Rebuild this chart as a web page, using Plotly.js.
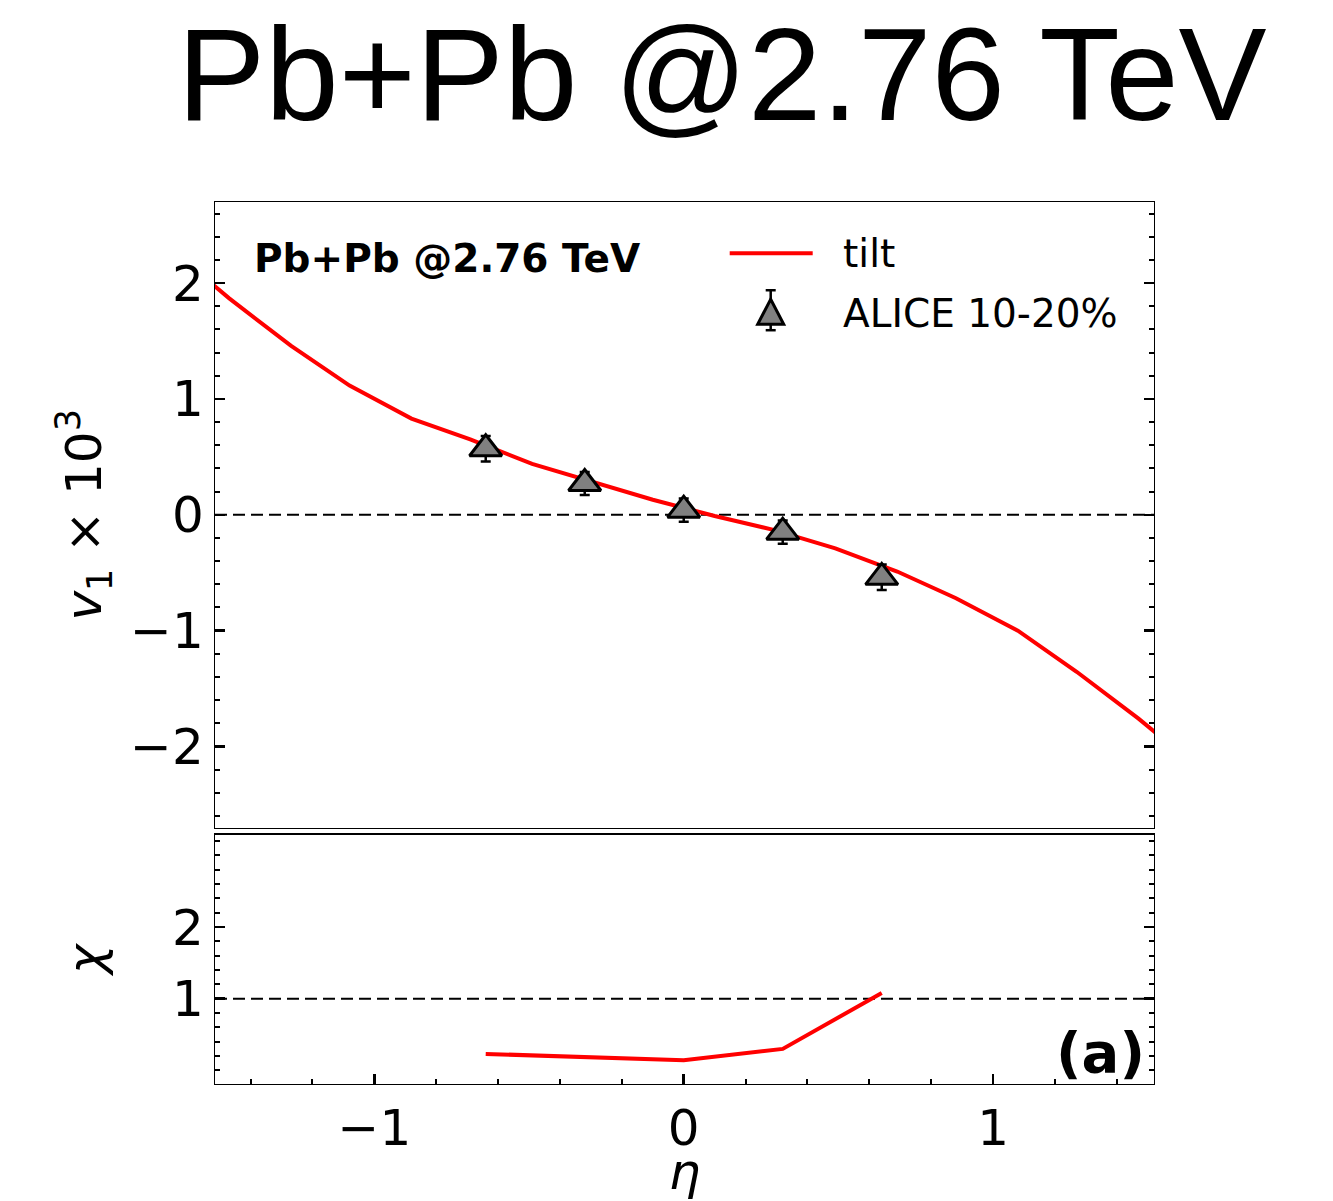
<!DOCTYPE html>
<html>
<head>
<meta charset="utf-8">
<script src="https://cdn.plot.ly/plotly-3.0.1.min.js"></script>
<style>html,body{margin:0;padding:0;background:#fff;}#chart{width:1333px;height:1201px;}</style>
</head>
<body>
<div id="chart"></div>
<script>
// ---- data ----
const etaModel = [-1.67, -1.47, -1.27, -1.08, -0.88, -0.69, -0.49, -0.29, -0.10, 0.10, 0.29, 0.49, 0.69, 0.88, 1.08, 1.27, 1.47, 1.67];
const v1Model  = [2.32, 1.87, 1.46, 1.115, 0.83, 0.65, 0.44, 0.28, 0.13, -0.01, -0.13, -0.29, -0.49, -0.72, -1.0, -1.355, -1.76, -2.2];
const etaData  = [-0.64, -0.32, 0.0, 0.32, 0.64];
const v1Data   = [0.57, 0.27, 0.04, -0.15, -0.54];
const v1Err    = [0.11, 0.10, 0.10, 0.10, 0.11];
const chiData  = [0.23, 0.18, 0.14, 0.30, 1.08];
const modelName = 'tilt';
const dataName  = 'ALICE 10-20%';

// ---- layout helpers (pixel -> paper) ----
const L = 215.3, R = 1154.3, T = 201.7, B = 1084.3;
const px = v => (v - L) / (R - L);
const py = v => (B - v) / (B - T);
const F = 'DejaVu Sans';

const traces = [
  {x: etaModel, y: v1Model, xaxis: 'x', yaxis: 'y', mode: 'lines', name: modelName,
   line: {color: '#ff0000', width: 4}, showlegend: false},
  {x: etaData, y: v1Data, xaxis: 'x', yaxis: 'y', mode: 'markers', name: dataName,
   marker: {symbol: 'triangle-up', size: 28, color: '#808080', line: {color: '#000', width: 3}},
   error_y: {type: 'data', array: v1Err, visible: true, color: '#000', thickness: 2.5, width: 5},
   showlegend: false},
  {x: etaData, y: chiData, xaxis: 'x2', yaxis: 'y2', mode: 'lines', name: 'chi',
   line: {color: '#ff0000', width: 4}, showlegend: false}
];

const tickFont = {family: F, size: 50, color: '#000'};
const axCommon = {showgrid: false, zeroline: false, showline: true, linecolor: '#000', linewidth: 1.2,
  ticks: 'inside', ticklen: 10, tickwidth: 2.5, tickcolor: '#000', tickfont: tickFont};

const layout = {
  width: 1333, height: 1201,
  paper_bgcolor: '#fff', plot_bgcolor: '#fff',
  margin: {l: L, r: 1333 - R, t: T, b: 1201 - B, pad: 0},
  showlegend: false,
  title: {text: 'Pb+Pb @2.76 TeV', font: {family: 'Liberation Sans', size: 132, color: '#000'},
          x: 722 / 1333, xanchor: 'center', xref: 'container', y: 1 - 74 / 1201, yanchor: 'middle', yref: 'container'},
  xaxis: Object.assign({}, axCommon, {domain: [0, 1], anchor: 'y', range: [-1.515, 1.52], matches: 'x2',
          showticklabels: false, ticks: '', mirror: true}),
  yaxis: Object.assign({}, axCommon, {domain: [(B - 827.7) / (B - T), 1], anchor: 'x', range: [-2.7, 2.7],
          tickmode: 'linear', tick0: 0, dtick: 1, mirror: 'ticks',
          minor: {ticks: 'inside', ticklen: 5, tickwidth: 2, tickcolor: '#000', tickmode: 'linear', tick0: 0, dtick: 0.2},
          title: {text: '<i>v</i><sub>1</sub> × 10<sup>3</sup>', font: {family: F, size: 50, color: '#000'}, standoff: 12}}),
  xaxis2: Object.assign({}, axCommon, {domain: [0, 1], anchor: 'y2', range: [-1.515, 1.52],
          tickmode: 'linear', tick0: 0, dtick: 1, mirror: true,
          minor: {ticks: 'inside', ticklen: 5, tickwidth: 2, tickcolor: '#000', tickmode: 'linear', tick0: 0, dtick: 0.2},
          title: {text: '<i>η</i>', font: {family: F, size: 50, color: '#000'}, standoff: 9}}),
  yaxis2: Object.assign({}, axCommon, {domain: [0, (B - 834.7) / (B - T)], anchor: 'x2', range: [-0.19, 3.29],
          tickmode: 'array', tickvals: [1, 2], ticktext: ['1', '2'], mirror: 'ticks',
          minor: {ticks: 'inside', ticklen: 5, tickwidth: 2, tickcolor: '#000', tickmode: 'linear', tick0: 0, dtick: 0.2},
          title: {text: '<i>χ</i>', font: {family: F, size: 50, color: '#000'}, standoff: 52}}),
  shapes: [
    {type: 'line', xref: 'x domain', yref: 'y', x0: 0, x1: 1, y0: 0, y1: 0, layer: 'below',
     line: {color: '#000', width: 2, dash: '12px,6px'}},
    {type: 'line', xref: 'x2 domain', yref: 'y2', x0: 0, x1: 1, y0: 1, y1: 1, layer: 'below',
     line: {color: '#000', width: 2, dash: '12px,6px'}},
    // legend: model line sample
    {type: 'line', xref: 'paper', yref: 'paper', x0: px(730), x1: px(813), y0: py(253), y1: py(253),
     line: {color: '#ff0000', width: 4}},
    // legend: data marker sample (error bar + caps + triangle)
    {type: 'line', xref: 'paper', yref: 'paper', x0: px(771), x1: px(771), y0: py(290), y1: py(330),
     line: {color: '#000', width: 2.5}},
    {type: 'line', xref: 'paper', yref: 'paper', x0: px(766), x1: px(776), y0: py(290), y1: py(290),
     line: {color: '#000', width: 2.5}},
    {type: 'line', xref: 'paper', yref: 'paper', x0: px(766), x1: px(776), y0: py(330), y1: py(330),
     line: {color: '#000', width: 2.5}},
    {type: 'path', xref: 'paper', yref: 'paper',
     path: 'M ' + px(758) + ' ' + py(324) + ' L ' + px(784) + ' ' + py(324) + ' L ' + px(771) + ' ' + py(299) + ' Z',
     fillcolor: '#808080', line: {color: '#000', width: 3}}
  ],
  annotations: [
    {text: '<b>Pb+Pb @2.76 TeV</b>', xref: 'paper', yref: 'paper', x: px(252), y: py(258),
     xanchor: 'left', yanchor: 'middle', showarrow: false, font: {family: F, size: 39, color: '#000'}},
    {text: modelName, xref: 'paper', yref: 'paper', x: px(841), y: py(253),
     xanchor: 'left', yanchor: 'middle', showarrow: false, font: {family: F, size: 39, color: '#000'}},
    {text: dataName, xref: 'paper', yref: 'paper', x: px(841), y: py(313),
     xanchor: 'left', yanchor: 'middle', showarrow: false, font: {family: F, size: 39, color: '#000'}},
    {text: '<b>(a)</b>', xref: 'paper', yref: 'paper', x: px(1147), y: py(1053),
     xanchor: 'right', yanchor: 'middle', showarrow: false, font: {family: F, size: 56, color: '#000'}}
  ]
};

Plotly.newPlot('chart', traces, layout, {displayModeBar: false, staticPlot: true});
</script>
</body>
</html>
